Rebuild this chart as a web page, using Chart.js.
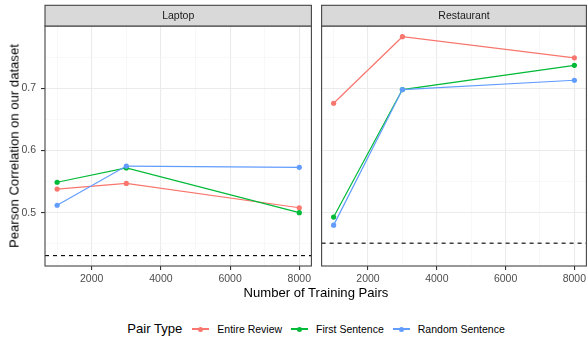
<!DOCTYPE html>
<html>
<head>
<meta charset="utf-8">
<script src="https://cdn.jsdelivr.net/npm/chart.js@4.4.1/dist/chart.umd.min.js"></script>
<style>
  html, body { margin:0; padding:0; background:#fff; }
  body { width:588px; height:338px; position:relative; overflow:hidden; font-family:"Liberation Sans", Arial, sans-serif; }
  .cv { position:absolute; top:0; }
  #ytitle { position:absolute; left:13.5px; top:146px; transform:translate(-50%,-50%) rotate(-90deg); font-size:13.1px; color:#000; white-space:nowrap; }
  #xtitle { position:absolute; left:0; width:632px; top:285px; text-align:center; font-size:13.1px; color:#000; white-space:nowrap; }
  #legend { position:absolute; left:0; width:632px; top:319px; height:20px; display:flex; justify-content:center; align-items:center; white-space:nowrap; }
  #legend .ttl { font-size:13.1px; color:#000; margin-right:10px; line-height:20px; }
  #legend .key { position:relative; width:17px; height:17px; margin-right:8px; }
  #legend .key .ln { position:absolute; left:0; right:0; top:7.9px; height:1.2px; }
  #legend .key .dt { position:absolute; left:6px; top:6px; width:5px; height:5px; border-radius:50%; }
  #legend .lbl { font-size:10.5px; color:#000; margin-right:9px; line-height:20px; }
  #legend .lbl:last-child { margin-right:0; }
</style>
</head>
<body>
<canvas id="c1" class="cv" style="left:0px" width="314" height="290"></canvas>
<canvas id="c2" class="cv" style="left:319px" width="270" height="290"></canvas>
<div id="ytitle">Pearson Correlation on our dataset</div>
<div id="xtitle">Number of Training Pairs</div>
<div id="legend"></div>
<script>
// ---- data ----
const panels = ['Laptop', 'Restaurant'];
const trainingPairs = [1000, 3000, 8000];
const seriesNames = ['Entire Review', 'First Sentence', 'Random Sentence'];
const seriesColors = ['#F8766D', '#00BA38', '#619CFF'];
const laptopEntire = [0.538, 0.547, 0.508];
const laptopFirst = [0.549, 0.572, 0.500];
const laptopRandom = [0.512, 0.575, 0.573];
const restaurantEntire = [0.676, 0.783, 0.749];
const restaurantFirst = [0.493, 0.698, 0.737];
const restaurantRandom = [0.480, 0.698, 0.713];
const baselines = [0.431, 0.451];
const xTicks = [1000, 2000, 3000, 4000, 5000, 6000, 7000, 8000];
const xMajor = [2000, 4000, 6000, 8000];
const yTicks = [0.45, 0.5, 0.55, 0.6, 0.65, 0.7, 0.75];
const yMajor = [0.5, 0.6, 0.7];
const xRange = [650, 8350];
const yRange = [0.4143, 0.8002];

const FONT = '"Liberation Sans", Arial, sans-serif';
Chart.defaults.font.family = FONT;
Chart.defaults.font.size = 10.5;
Chart.defaults.color = '#4D4D4D';

const isMajor = (arr, v) => arr.some(m => Math.abs(m - v) < 1e-9);

const facetPlugin = {
  id: 'facet',
  beforeDatasetsDraw(chart, args, opts) {
    const ctx = chart.ctx, a = chart.chartArea;
    const y = chart.scales.y.getPixelForValue(opts.baseline);
    ctx.save();
    ctx.beginPath();
    ctx.rect(a.left, a.top, a.right - a.left, a.bottom - a.top);
    ctx.clip();
    ctx.strokeStyle = '#000';
    ctx.lineWidth = 1.1;
    ctx.setLineDash([4, 4]);
    ctx.beginPath();
    ctx.moveTo(a.left, y);
    ctx.lineTo(a.right, y);
    ctx.stroke();
    ctx.restore();
  },
  afterDraw(chart, args, opts) {
    const ctx = chart.ctx, a = chart.chartArea;
    ctx.save();
    ctx.strokeStyle = '#444';
    ctx.lineWidth = 1.1;
    ctx.strokeRect(a.left, a.top, a.right - a.left, a.bottom - a.top);
    const sTop = 5.3, sH = a.top - sTop;
    ctx.fillStyle = '#D9D9D9';
    ctx.fillRect(a.left, sTop, a.right - a.left, sH);
    ctx.strokeRect(a.left, sTop, a.right - a.left, sH);
    ctx.fillStyle = '#1A1A1A';
    ctx.font = '10.5px ' + FONT;
    ctx.textAlign = 'center';
    ctx.textBaseline = 'middle';
    const cx = opts.stripCenter != null ? opts.stripCenter : (a.left + a.right) / 2;
    ctx.fillText(opts.label, cx, sTop + sH / 2 + 0.5);
    ctx.restore();
  }
};

function makeDatasets(vals) {
  return vals.map((v, i) => ({
    label: seriesNames[i],
    data: trainingPairs.map((x, j) => ({ x: x, y: v[j] })),
    borderColor: seriesColors[i],
    backgroundColor: seriesColors[i],
    borderWidth: 1.2,
    pointRadius: 2.6,
    pointBorderWidth: 0,
    pointHoverRadius: 2.6,
    tension: 0,
    order: 3 - i
  }));
}

function makeChart(id, vals, panelIdx, showY, padding, stripCenter) {
  return new Chart(document.getElementById(id), {
    type: 'line',
    data: { datasets: makeDatasets(vals) },
    plugins: [facetPlugin],
    options: {
      responsive: false,
      animation: false,
      events: [],
      devicePixelRatio: 1,
      layout: { padding: padding },
      plugins: {
        legend: { display: false },
        tooltip: { enabled: false },
        facet: { label: panels[panelIdx], baseline: baselines[panelIdx], stripCenter: stripCenter }
      },
      scales: {
        x: {
          type: 'linear',
          min: xRange[0], max: xRange[1],
          afterBuildTicks: (ax) => { ax.ticks = xTicks.map(v => ({ value: v })); },
          afterFit: (ax) => { ax.height = 24; ax.paddingLeft = 0; ax.paddingRight = 0; },
          ticks: {
            autoSkip: false, maxRotation: 0, padding: 3, color: '#4D4D4D',
            callback: (v) => isMajor(xMajor, v) ? String(v) : ''
          },
          grid: {
            color: (c) => isMajor(xMajor, c.tick.value) ? '#EBEBEB' : '#F3F3F3',
            lineWidth: (c) => isMajor(xMajor, c.tick.value) ? 1.1 : 0.6,
            tickColor: (c) => isMajor(xMajor, c.tick.value) ? '#333333' : 'rgba(0,0,0,0)',
            tickLength: 4, tickWidth: 1.1
          },
          border: { display: false }
        },
        y: {
          type: 'linear',
          min: yRange[0], max: yRange[1],
          afterBuildTicks: (ax) => { ax.ticks = yTicks.map(v => ({ value: v })); },
          afterFit: (ax) => { ax.width = showY ? 45 : 0; ax.paddingTop = 0; ax.paddingBottom = 0; },
          ticks: {
            display: showY, padding: 5, color: '#4D4D4D',
            callback: (v) => isMajor(yMajor, v) ? String(v) : ''
          },
          grid: {
            color: (c) => isMajor(yMajor, c.tick.value) ? '#EBEBEB' : '#F3F3F3',
            lineWidth: (c) => isMajor(yMajor, c.tick.value) ? 1.1 : 0.6,
            tickColor: (c) => (showY && isMajor(yMajor, c.tick.value)) ? '#333333' : 'rgba(0,0,0,0)',
            drawTicks: showY,
            tickLength: 4, tickWidth: 1.1
          },
          border: { display: false }
        }
      }
    }
  });
}

makeChart('c1', [laptopEntire, laptopFirst, laptopRandom], 0, true, { top: 26, left: 0, right: 0.7, bottom: 0 }, null);
makeChart('c2', [restaurantEntire, restaurantFirst, restaurantRandom], 1, false, { top: 26, left: 0.5, right: 0, bottom: 0 }, 464 - 319);

const lg = document.getElementById('legend');
const t = document.createElement('span'); t.className = 'ttl'; t.textContent = 'Pair Type'; lg.appendChild(t);
seriesNames.forEach((n, i) => {
  const k = document.createElement('span'); k.className = 'key';
  const ln = document.createElement('span'); ln.className = 'ln'; ln.style.background = seriesColors[i];
  const dt = document.createElement('span'); dt.className = 'dt'; dt.style.background = seriesColors[i];
  k.appendChild(ln); k.appendChild(dt); lg.appendChild(k);
  const l = document.createElement('span'); l.className = 'lbl'; l.textContent = n; lg.appendChild(l);
});
</script>
</body>
</html>
